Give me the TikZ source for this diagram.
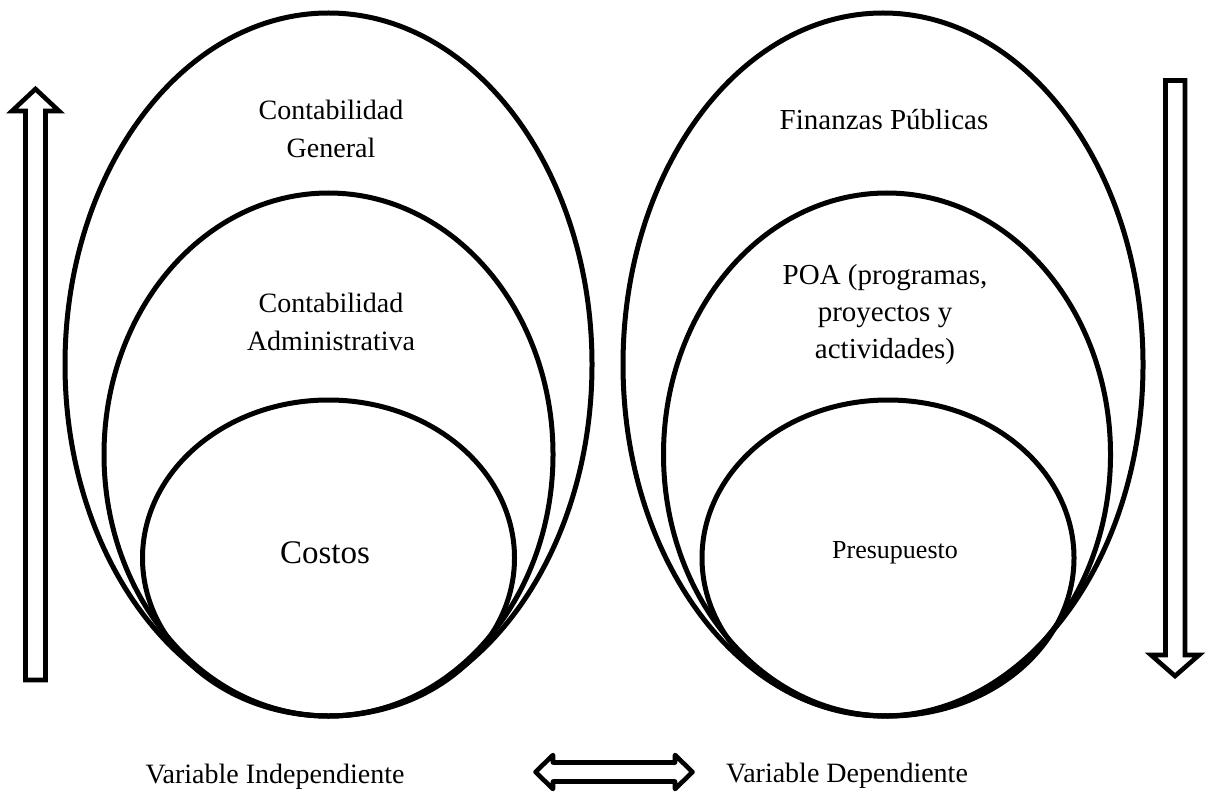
\documentclass[tikz,border=0pt]{standalone}
\usepackage{fontspec}
\setmainfont{Liberation Serif}
\begin{document}
\begin{tikzpicture}[x=0.5pt,y=-0.5pt,
  ring/.style={line width=2.5pt},
  hollow/.style={line width=2.3pt,line join=miter},
  hollowround/.style={line width=2.3pt,line join=round},
  lbl/.style={align=center,inner sep=0pt,font=\fontsize{14}{19}\selectfont},
  lblbig/.style={align=center,inner sep=0pt,font=\fontsize{16.5}{20}\selectfont},
  lblsmall/.style={align=center,inner sep=0pt,font=\fontsize{13}{18}\selectfont},
  lblright/.style={align=center,inner sep=0pt,font=\fontsize{14.5}{18.5}\selectfont}]
\useasboundingbox (0,0) rectangle (1213,802);
% left ellipses
\draw[ring] (328.5,364.5) ellipse [x radius=263.5, y radius=351.5];
\draw[ring] (328.5,454.5) ellipse [x radius=224.5, y radius=261.5];
\draw[ring] (328.5,558) ellipse [x radius=186, y radius=158];
% right ellipses
\draw[ring] (883,364.5) ellipse [x radius=260, y radius=351.5];
\draw[ring] (887,454.5) ellipse [x radius=223.5, y radius=261.5];
\draw[ring] (888,558) ellipse [x radius=186, y radius=158];
% texts
\node[lbl] (cg) at (331,129) {Contabilidad\\General};
\node[lbl] (ca) at (331,322) {Contabilidad\\Administrativa};
\node[lblbig] (co) at (325,553) {Costos};
\node[lblright] (fp) at (884,120) {Finanzas Públicas};
\node[lblright] (poa) at (885,315) {POA (programas,\\proyectos y\\actividades)};
\node[lblsmall] (pr) at (895,553) {Presupuesto};
\node[lbl] (vi) at (275,777) {Variable Independiente};
\node[lbl] (vd) at (847,776) {Variable Dependiente};
% left up arrow
\draw[hollow] (25.5,680) -- (25.5,111) -- (12,111) -- (35.5,89) -- (59,111) -- (45.5,111) -- (45.5,680) -- cycle;
% right down arrow
\draw[hollow] (1165.5,80.5) -- (1165.5,655) -- (1151,655) -- (1175,676) -- (1199,655) -- (1185,655) -- (1185,80.5) -- cycle;
% double arrow
\draw[hollowround] (553,762.5) -- (675,762.5) -- (675,755) -- (692.5,772) -- (675,789) -- (675,781.5) -- (553,781.5) -- (553,789) -- (535.5,772) -- (553,755) -- cycle;
\end{tikzpicture}
\end{document}
